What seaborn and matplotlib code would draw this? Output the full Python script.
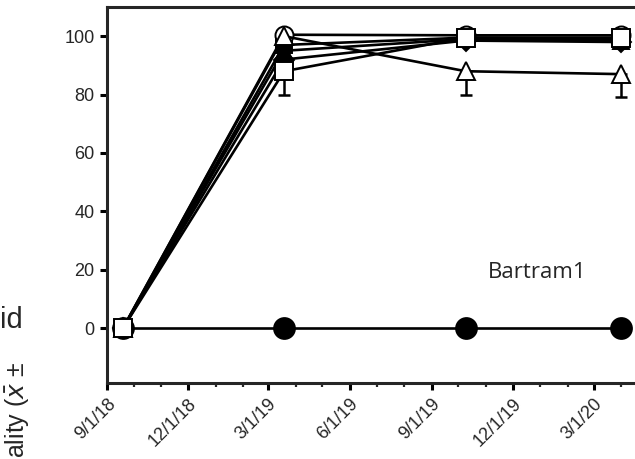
import pandas as pd
import numpy as np
import matplotlib
matplotlib.use("Agg")
import matplotlib.pyplot as plt
import matplotlib.dates as mdates
import seaborn as sns

# sampling dates
dates = pd.to_datetime(["2018-09-19", "2019-03-19", "2019-10-09", "2020-04-01"])

# treatment series (mortality %), drawn in this order
ctrl_filled_circle = [0, 0, 0, 0]
filled_square = [0, 97, 99.5, 99]
filled_triangle = [0, 95, 99, 98.5]
filled_diamond = [0, 92, 98.5, 98]
open_circle = [0, 100.5, 100.3, 100.3]
open_triangle = [0, 100, 88, 87]
open_triangle_err = [0, 0, 8, 8]
open_square = [0, 88, 99.5, 99.5]
open_square_err = [0, 8, 0, 0]

site_label = "Bartram1"

sns.set_style("ticks")
plt.rcParams["font.family"] = ["Liberation Sans", "DejaVu Sans"]

fig = plt.figure(figsize=(6.35, 4.59), dpi=100)
ax = fig.add_axes([107 / 635, 1 - 383 / 459, 533 / 635, 376 / 459])

series = [
    (ctrl_filled_circle, "o", "black", 15, None),
    (filled_square, "s", "black", 11, None),
    (filled_triangle, "^", "black", 12, None),
    (filled_diamond, "D", "black", 10, None),
    (open_circle, "o", "white", 13, None),
    (open_triangle, "^", "white", 13, open_triangle_err),
    (open_square, "s", "white", 13, open_square_err),
]

for i, (vals, mk, face, ms, err) in enumerate(series):
    if err is not None:
        ax.errorbar(dates, vals, yerr=[err, [0] * len(err)], fmt="none",
                    ecolor="black", elinewidth=1.8, capsize=4.5, capthick=1.8,
                    zorder=2 + i * 0.1)
    sns.lineplot(x=dates, y=vals, ax=ax, color="black", linewidth=1.9,
                 marker=mk, markersize=ms, markerfacecolor=face,
                 markeredgecolor="black", markeredgewidth=1.4,
                 zorder=3 + i * 0.1)

ax.set_xlim(pd.Timestamp("2018-09-01"), pd.Timestamp("2020-04-22"))
ax.set_ylim(-18.8, 110)
ax.set_yticks([0, 20, 40, 60, 80, 100])
ax.set_xlabel("")
ax.set_ylabel("")

ax.xaxis.set_major_locator(mdates.MonthLocator(bymonth=[3, 6, 9, 12]))
ax.xaxis.set_minor_locator(mdates.MonthLocator())
ax.xaxis.set_major_formatter(mdates.DateFormatter("%-m/%-d/%y"))

for s in ax.spines.values():
    s.set_linewidth(2.2)
ax.spines["right"].set_visible(False)

ax.tick_params(axis="both", which="major", direction="out", length=5, width=2.2,
               labelsize=13, color="black", pad=4)
ax.tick_params(axis="x", which="minor", direction="out", length=3, width=1.6)
plt.setp(ax.get_xticklabels(), rotation=45, ha="right", rotation_mode="anchor")

ax.text(0.807, 0.295, site_label, transform=ax.transAxes, ha="center",
        va="center", fontsize=16, family=["Open Sans", "DejaVu Sans"])

# y-axis label fragments (the source figure is cropped on the left)
fig.text(0.0, 1 - 328 / 459, "id", fontsize=21, ha="left", va="baseline")
fig.text(18 / 635, 1 / 459, "ality ($\\bar{x}$ ±", rotation=90,
         fontsize=18, ha="center", va="bottom")

fig.savefig("out.png", dpi=100)
